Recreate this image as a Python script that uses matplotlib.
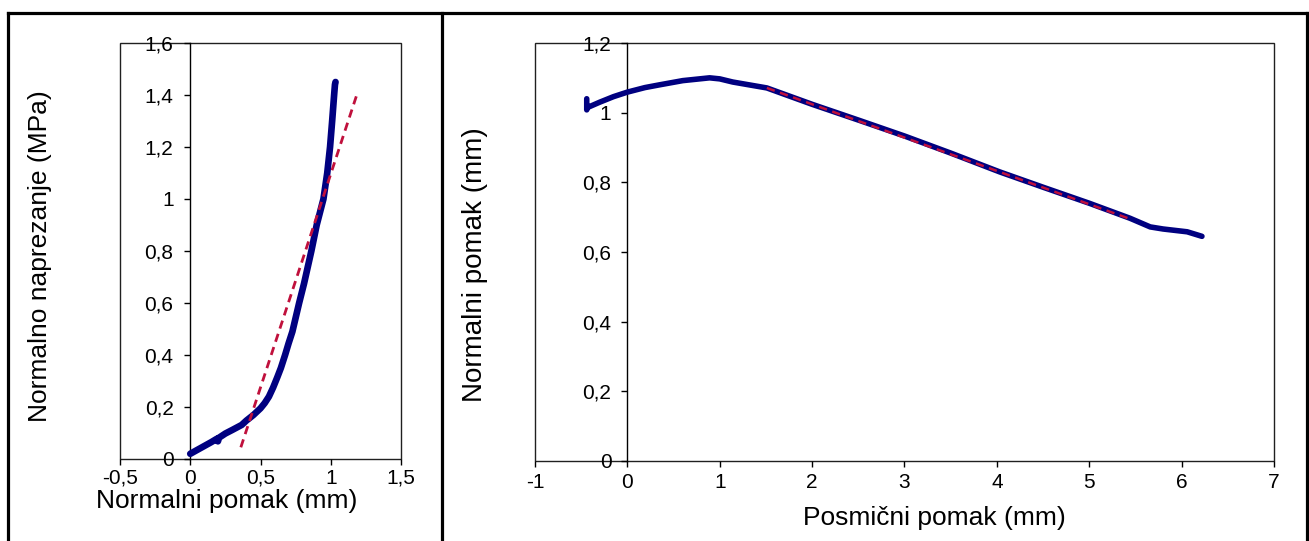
import matplotlib
matplotlib.use("Agg")
import matplotlib.pyplot as plt
from matplotlib.patches import Rectangle
from matplotlib.lines import Line2D

plt.rcParams['font.family'] = ['Liberation Sans', 'DejaVu Sans']
plt.rcParams['lines.scale_dashes'] = False

# ---------------- data ----------------
# Left panel: normal displacement (mm) vs normal stress (MPa)
left_x = [0.0, 0.05, 0.10, 0.15, 0.19, 0.197, 0.205, 0.25, 0.30, 0.366, 0.40, 0.449,
          0.50, 0.53, 0.56, 0.59, 0.62, 0.645, 0.675, 0.70, 0.727, 0.775, 0.81, 0.862,
          0.90, 0.948, 0.975, 0.995, 1.010, 1.024, 1.030, 1.034]
left_y = [0.02, 0.035, 0.05, 0.065, 0.078, 0.068, 0.082, 0.098, 0.112, 0.131, 0.148, 0.169,
          0.195, 0.215, 0.24, 0.275, 0.315, 0.35, 0.40, 0.445, 0.49, 0.60, 0.675, 0.80,
          0.90, 1.00, 1.10, 1.20, 1.30, 1.40, 1.44, 1.45]
left_fit_x = [0.36, 1.185]
left_fit_y = [0.045, 1.40]

left_xticks = [-0.5, 0.0, 0.5, 1.0, 1.5]
left_xticklabels = ['-0,5', '0', '0,5', '1', '1,5']
left_yticks = [0.0, 0.2, 0.4, 0.6, 0.8, 1.0, 1.2, 1.4, 1.6]
left_yticklabels = ['0', '0,2', '0,4', '0,6', '0,8', '1', '1,2', '1,4', '1,6']

# Right panel: shear displacement (mm) vs normal displacement (mm)
right_x = [-0.44, -0.44, -0.43, -0.30, -0.15, 0.0, 0.19, 0.35, 0.60, 0.89, 1.0, 1.14,
           1.51, 2.0, 2.52, 3.0, 3.5, 4.03, 4.5, 5.0, 5.44, 5.66, 5.80, 6.06, 6.22]
right_y = [1.040, 1.008, 1.015, 1.030, 1.046, 1.059, 1.072, 1.080, 1.092, 1.100, 1.097, 1.088,
           1.071, 1.024, 0.977, 0.933, 0.884, 0.830, 0.786, 0.740, 0.697, 0.672, 0.666, 0.658, 0.645]
right_fit_x = [1.51, 5.44]
right_fit_y = [1.071, 0.695]

right_xticks = [-1, 0, 1, 2, 3, 4, 5, 6, 7]
right_xticklabels = ['-1', '0', '1', '2', '3', '4', '5', '6', '7']
right_yticks = [0.0, 0.2, 0.4, 0.6, 0.8, 1.0, 1.2]
right_yticklabels = ['0', '0,2', '0,4', '0,6', '0,8', '1', '1,2']

# ---------------- figure ----------------
W, H = 1309, 541
fig = plt.figure(figsize=(W / 100, H / 100), dpi=100)

CURVE = '#000080'
FIT = '#C0103C'
TICK_FS = 15
LABEL_FS = 19


def px_rect(x0, x1, ytop, ybot):
    return [x0 / W, 1 - ybot / H, (x1 - x0) / W, (ybot - ytop) / H]


def style_axes(ax, xlim, ylim, xticks, xtl, yticks, ytl, xpad, ypad):
    ax.set_xlim(*xlim)
    ax.set_ylim(*ylim)
    for s in ['top', 'right', 'bottom']:
        ax.spines[s].set_visible(False)
    ax.spines['left'].set_position(('data', 0))
    ax.spines['left'].set_color('black')
    ax.spines['left'].set_linewidth(1.0)
    ax.add_patch(Rectangle((0, 0), 1, 1, transform=ax.transAxes, fill=False,
                           edgecolor='#202020', lw=1.0, clip_on=False, zorder=0.5))
    ax.set_xticks(xticks)
    ax.set_xticklabels(xtl)
    ax.set_yticks(yticks)
    ax.set_yticklabels(ytl)
    ax.tick_params(axis='x', direction='out', length=4.5, width=1, pad=xpad,
                   labelsize=TICK_FS, color='black')
    ax.tick_params(axis='y', direction='out', length=4.5, width=1, pad=ypad,
                   labelsize=TICK_FS, color='black')
    ax.patch.set_visible(False)


# Left panel
axL = fig.add_axes(px_rect(120, 401, 43, 459))
style_axes(axL, (-0.5, 1.5), (0, 1.6), left_xticks, left_xticklabels,
           left_yticks, left_yticklabels, xpad=2.5, ypad=7.5)
axL.plot(left_x, left_y, color=CURVE, lw=4.8, solid_capstyle='round',
         solid_joinstyle='round', zorder=3)
axL.plot(left_fit_x, left_fit_y, color=FIT, lw=2.0, dashes=(6, 4), zorder=4)
axL.set_xlabel('Normalni pomak (mm)', fontsize=LABEL_FS)
axL.xaxis.set_label_coords((227 - 120) / 281, (459 - 501) / 416)
axL.xaxis.label.set_verticalalignment('center')
axL.set_ylabel('Normalno naprezanje (MPa)', fontsize=LABEL_FS)
axL.yaxis.set_label_coords((40 - 120) / 281, (459 - 256) / 416)
axL.yaxis.label.set_verticalalignment('center')

# Right panel
axR = fig.add_axes(px_rect(535, 1274, 43, 461))
style_axes(axR, (-1, 7), (0, 1.2), right_xticks, right_xticklabels,
           right_yticks, right_yticklabels, xpad=4.5, ypad=7)
axR.plot(right_x, right_y, color=CURVE, lw=4.0, solid_capstyle='round',
         solid_joinstyle='round', zorder=3)
axR.plot(right_fit_x, right_fit_y, color=FIT, lw=1.8, dashes=(6, 4), zorder=4)
axR.set_xlabel('Posmični pomak (mm)', fontsize=LABEL_FS)
axR.xaxis.set_label_coords((934 - 535) / 739, (461 - 518) / 418)
axR.xaxis.label.set_verticalalignment('center')
axR.set_ylabel('Normalni pomak (mm)', fontsize=20)
axR.yaxis.set_label_coords((475 - 535) / 739, (461 - 265) / 418)
axR.yaxis.label.set_verticalalignment('center')

# Outer table-like border
lw_border = 2.3
def fline(x0, y0, x1, y1):
    fig.add_artist(Line2D([x0 / W, x1 / W], [1 - y0 / H, 1 - y1 / H],
                          color='black', lw=lw_border, solid_capstyle='projecting'))

fline(8, 12.5, 1306.5, 12.5)
fline(8, 12.5, 8, H + 5)
fline(1306.5, 12.5, 1306.5, H + 5)
fline(441.5, 12.5, 441.5, H + 5)

fig.savefig('out.png', dpi=100)
